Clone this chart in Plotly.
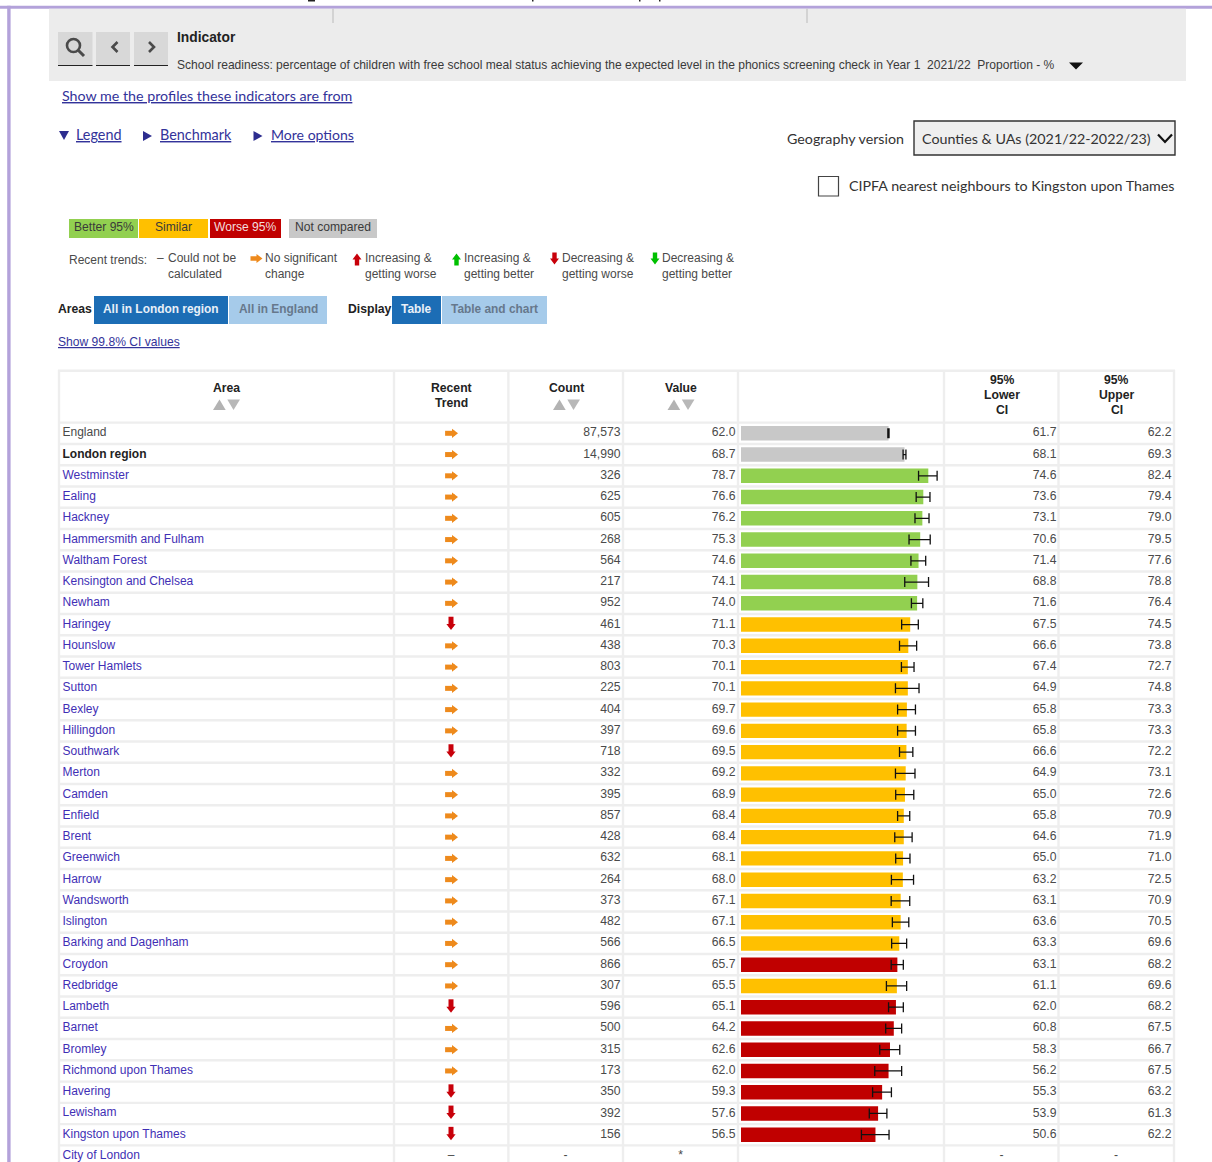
import plotly.graph_objects as go

areas = ["England","London region","Westminster","Ealing","Hackney","Hammersmith and Fulham","Waltham Forest",
         "Kensington and Chelsea","Newham","Haringey","Hounslow","Tower Hamlets","Sutton","Bexley","Hillingdon",
         "Southwark","Merton","Camden","Enfield","Brent","Greenwich","Harrow","Wandsworth","Islington",
         "Barking and Dagenham","Croydon","Redbridge","Lambeth","Barnet","Bromley","Richmond upon Thames",
         "Havering","Lewisham","Kingston upon Thames","City of London"]
counts = ["87,573","14,990","326","625","605","268","564","217","952","461","438","803","225","404","397","718",
          "332","395","857","428","632","264","373","482","566","866","307","596","500","315","173","350","392","156","-"]
values = [62.0,68.7,78.7,76.6,76.2,75.3,74.6,74.1,74.0,71.1,70.3,70.1,70.1,69.7,69.6,69.5,69.2,68.9,68.4,68.4,68.1,
          68.0,67.1,67.1,66.5,65.7,65.5,65.1,64.2,62.6,62.0,59.3,57.6,56.5,None]
lower = [61.7,68.1,74.6,73.6,73.1,70.6,71.4,68.8,71.6,67.5,66.6,67.4,64.9,65.8,65.8,66.6,64.9,65.0,65.8,64.6,65.0,
         63.2,63.1,63.6,63.3,63.1,61.1,62.0,60.8,58.3,56.2,55.3,53.9,50.6,None]
upper = [62.2,69.3,82.4,79.4,79.0,79.5,77.6,78.8,76.4,74.5,73.8,72.7,74.8,73.3,73.3,72.2,73.1,72.6,70.9,71.9,71.0,
         72.5,70.9,70.5,69.6,68.2,69.6,68.2,67.5,66.7,67.5,63.2,61.3,62.2,None]
benchmark = ["none","none"]+["better"]*7+["similar"]*16+["worse","similar"]+["worse"]*7+["none"]
trends = ["same"]*9+["down"]+["same"]*5+["down"]+["same"]*11+["down"]+["same"]*3+["down","down","down","na"]

W, H = 1212, 1162
ROW0, PITCH = 433.3, 21.255
BAR0, PXU = 741, 2.38
TXT = "#4a4a4a"
LINK = "#33339a"
AREA = "#3f2fb5"
SANS = "Liberation Sans"
GDS = "Lato"
BCOL = {"better":"#92d050","similar":"#ffc000","worse":"#c00000","none":"#c8c8c8"}

def px(x): return x/W
def py(y): return 1-y/H

shapes, ann = [], []
def rect(x0,y0,x1,y1,fill,line=None,lw=0):
    shapes.append(dict(type="rect",xref="paper",yref="paper",x0=px(x0),x1=px(x1),y0=py(y0),y1=py(y1),
                       fillcolor=fill,line=dict(color=line or fill,width=lw),layer="below"))
def poly(points,fill=None,line=None,lw=0):
    d = "M"+" L".join(f"{px(a):.5f},{py(b):.5f}" for a,b in points)+(" Z" if fill else "")
    shapes.append(dict(type="path",xref="paper",yref="paper",path=d,fillcolor=fill or "rgba(0,0,0,0)",
                       line=dict(color=line or "rgba(0,0,0,0)",width=lw),layer="above"))
def text(x,y,s,size=12,color=TXT,anchor="left",font=SANS,bold=False):
    ann.append(dict(xref="paper",yref="paper",x=px(x),y=py(y),text=f"<b>{s}</b>" if bold else s,showarrow=False,
                    xanchor=anchor,yanchor="middle",borderpad=0,borderwidth=0,
                    font=dict(size=size,color=color,family=font)))
def key_arrow(cx,cy,kind,color):
    if kind=="right":
        pts=[(cx-6,cy-2.2),(cx,cy-2.2),(cx,cy-4.5),(cx+6,cy),(cx,cy+4.5),(cx,cy+2.2),(cx-6,cy+2.2)]
    else:
        s = 1 if kind=="down" else -1
        pts=[(cx-2.2,cy-6*s),(cx+2.2,cy-6*s),(cx+2.2,cy),(cx+4.5,cy),(cx,cy+6*s),(cx-4.5,cy),(cx-2.2,cy)]
    poly(pts,fill=color)

# page frame and clipped heading above it
PURPLE = "#b3a2da"
rect(0,5.7,W,8.7,PURPLE)
rect(7.2,5.7,10.6,H,PURPLE)
for a,b in [(308,315),(532,533.5),(639,640.5),(659,660.5)]:
    rect(a,0,b,1.5,"#222222")
# indicator band
rect(49,8.7,1186,81,"#ececec")
rect(332.5,8.7,333.5,23,"#b9b9b9")
rect(806.5,8.7,807.5,23,"#b9b9b9")
for a,b in [(58,92.5),(96,130),(134,168)]:
    rect(a,32,b,65,"#d8d8d8")
    rect(a,65,b,66,"#222222")
# magnifier, chevrons
shapes.append(dict(type="circle",xref="paper",yref="paper",x0=px(67),x1=px(80),y0=py(52),y1=py(39),
                   line=dict(color="#4a4a4a",width=2.6),fillcolor="rgba(0,0,0,0)"))
poly([(78.5,50.5),(84,56)],line="#4a4a4a",lw=3)
poly([(117.5,42),(112.5,47),(117.5,52)],line="#4a4a4a",lw=2.6)
poly([(149,42),(154,47),(149,52)],line="#4a4a4a",lw=2.6)
text(177,37.5,"Indicator",13.8,"#222222",bold=True)
text(177,65,"School readiness: percentage of children with free school meal status achieving the expected level in the phonics screening check in Year 1&nbsp;&nbsp;2021/22&nbsp;&nbsp;Proportion - %",12.05,"#3a3a3a")
poly([(1069,62.5),(1083,62.5),(1076,69.5)],fill="#111111")

# links
text(62,96,"<u>Show me the profiles these indicators are from</u>",14.25,LINK,font=GDS)
poly([(59,131),(69,131),(64,140)],fill="#2d2d8f")
text(76,135,"<u>Legend</u>",14.4,LINK,font=GDS)
poly([(143,131),(152,136),(143,141)],fill="#2d2d8f")
text(160,135,"<u>Benchmark</u>",14.4,LINK,font=GDS)
poly([(253.5,131),(262.5,136),(253.5,141)],fill="#2d2d8f")
text(271,135,"<u>More options</u>",14.05,LINK,font=GDS)

# geography controls
text(787,138.5,"Geography version",14.25,"#333333",font=GDS)
rect(914,121,1175,155,"#efefef","#333333",1.4)
text(922,138.5,"Counties &amp; UAs (2021/22-2022/23)",14.3,"#333333",font=GDS)
poly([(1158,134.5),(1165,142),(1172,134.5)],line="#111111",lw=2.2)
rect(818.5,176.5,838.5,196,"#ffffff","#444444",1.2)
text(849,185.5,"CIPFA nearest neighbours to Kingston upon Thames",14.28,"#333333",font=GDS)

# legend pills
for a,b,c,t,tc in [(69,138,"#92d050","Better 95%","#3a3a3a"),(139,208,"#ffc000","Similar","#3a3a3a"),
                   (210,281,"#c00000","Worse 95%","#f2dede"),(289,377,"#c8c8c8","Not compared","#3a3a3a")]:
    rect(a,219,b,238,c)
    text((a+b)/2,227.3,t,12.1,tc,anchor="center")
text(69,260,"Recent trends:",12)
text(157,258,"–",12)
for x,l1,l2 in [(168,"Could not be","calculated"),(265,"No significant","change"),(365,"Increasing &amp;","getting worse"),
                (464,"Increasing &amp;","getting better"),(562,"Decreasing &amp;","getting worse"),(662,"Decreasing &amp;","getting better")]:
    text(x,258,l1,12)
    text(x,274,l2,12)
ORANGE, RED, GREEN = "#ee8a1c", "#c8000a", "#00c000"
key_arrow(256.5,258.5,"right",ORANGE)
key_arrow(357,259.5,"up",RED)
key_arrow(456.5,259.5,"up",GREEN)
key_arrow(554.5,258.5,"down",RED)
key_arrow(655,258.5,"down",GREEN)

# area / display toggles
text(58,309,"Areas",12.2,"#222222",bold=True)
text(348,309,"Display",12.2,"#222222",bold=True)
for a,b,c,t,tc in [(94,228,"#1c6db5","All in London region","#e8f0f8"),(229,327,"#a6cbea","All in England","#66788c"),
                   (392,441,"#1c6db5","Table","#e8f0f8"),(442,547,"#a6cbea","Table and chart","#66788c")]:
    rect(a,296,b,324,c)
    text((a+b)/2,309,t,11.9,tc,anchor="center",bold=True)
text(58,342,"<u>Show 99.8% CI values</u>",12.1,LINK)

# table grid
GRID = "#eeeeee"
for x in [59,394,508.4,623,738,944,1058.5,1174]:
    rect(x-1.2,370,x+1.2,H,GRID)
rect(58,369.5,1175,372,GRID)
for i in range(len(areas)):
    y = ROW0+(i-0.5)*PITCH
    rect(58,y-1.2,1175,y+1.2,GRID)

# table header
for x,lines in [(226.5,["Area"]),(451,["Recent","Trend"]),(566.5,["Count"]),(681,["Value"])]:
    for k,l in enumerate(lines):
        text(x,388+15*k,l,12.2,"#222222",anchor="center",bold=True)
for x,l in [(1002,"Lower"),(1116.5,"Upper")]:
    for k,t in enumerate(["95%",l,"CI"]):
        text(x,380+15*k,t,12.2,"#222222",anchor="center",bold=True)
for c in [226.5,566.5,681]:
    poly([(c-13.5,410),(c-7,399.5),(c-0.8,410)],fill="#b3b3b3")
    poly([(c+0.8,399.5),(c+13.5,399.5),(c+7,410)],fill="#b8b8b8")

fig = go.Figure()

# bars and confidence intervals
fig.add_bar(y=areas,x=values,orientation="h",width=0.68,marker=dict(color=[BCOL[b] for b in benchmark],line_width=0),
            error_x=dict(type="data",symmetric=False,
                         array=[None if v is None else round(u-v,1) for u,v in zip(upper,values)],
                         arrayminus=[None if v is None else round(v-l,1) for l,v in zip(lower,values)],
                         color="#111111",thickness=1.3,width=5),
            xaxis="x",yaxis="y",hoverinfo="skip")

# table columns (x in page pixels, y in the category axis)
def column(x,labels,pos,color=TXT,size=12.2):
    fig.add_scatter(x=[x]*len(labels),y=areas,mode="text",text=labels,textposition=pos,cliponaxis=False,
                    textfont=dict(size=size,color=color,family=SANS),xaxis="x2",yaxis="y",hoverinfo="skip")
names = [f"<b>{a}</b>" if a=="London region" else a for a in areas]
name_colors = [TXT,"#222222"]+[AREA]*(len(areas)-2)
column(62.5,names,"middle right",name_colors,12)
column(620.5,[c if c!="-" else "" for c in counts],"middle left")
column(735.5,[f"{v:.1f}" if v is not None else "" for v in values],"middle left")
column(1056.5,[f"{v:.1f}" if v is not None else "" for v in lower],"middle left")
column(1171.5,[f"{v:.1f}" if v is not None else "" for v in upper],"middle left")
# suppressed values in the last row
for x,s in [(565.5,"-"),(680.5,"*"),(1001.5,"-"),(1116,"-")]:
    fig.add_scatter(x=[x],y=[areas[-1]],mode="text",text=[s],textposition="middle center",cliponaxis=False,
                    textfont=dict(size=12.2,color=TXT,family=SANS),xaxis="x2",yaxis="y",hoverinfo="skip")

# trend glyphs: shaft + head, on a numeric row axis matching the category axis
idx = list(range(len(areas)))
same = [i for i,t in zip(idx,trends) if t=="same"]
down = [i for i,t in zip(idx,trends) if t=="down"]
def glyph(xs,ys,symbol,size,color,lw=0):
    fig.add_scatter(x=xs,y=ys,mode="markers",cliponaxis=False,xaxis="x2",yaxis="y3",hoverinfo="skip",
                    marker=dict(symbol=symbol,size=size,color=color,line=dict(color=color,width=lw)))
glyph([450]*len(same),same,"line-ew",7,ORANGE,5)
glyph([454]*len(same),same,"triangle-right",8,ORANGE)
glyph([451]*len(down),[i-0.14 for i in down],"line-ns",7,RED,5)
glyph([451]*len(down),[i+0.07 for i in down],"triangle-down",8,RED)
fig.add_scatter(x=[451],y=[areas[-1]],mode="text",text=["–"],textposition="middle center",cliponaxis=False,
                textfont=dict(size=12,color=TXT,family=SANS),xaxis="x2",yaxis="y",hoverinfo="skip")

XMAX = 85
top = ROW0-0.5*PITCH
yrange = [(H-ROW0)/PITCH,-0.5]
fig.update_layout(
    width=W,height=H,margin=dict(l=0,r=0,t=0,b=0,pad=0),autosize=False,showlegend=False,
    paper_bgcolor="#ffffff",plot_bgcolor="rgba(0,0,0,0)",
    shapes=shapes,annotations=ann,
    xaxis=dict(domain=[px(BAR0),px(BAR0+XMAX*PXU)],range=[0,XMAX],visible=False,fixedrange=True),
    xaxis2=dict(domain=[0,1],range=[0,W],visible=False,anchor="y",fixedrange=True),
    yaxis=dict(domain=[0,py(top)],type="category",categoryorder="array",categoryarray=areas,
               range=yrange,visible=False,fixedrange=True),
    yaxis3=dict(domain=[0,py(top)],type="linear",range=yrange,visible=False,fixedrange=True,anchor="x2"),
)
fig.write_html("out.html",config=dict(displayModeBar=False),
               post_script="document.body.style.margin='0';document.body.style.overflow='hidden';")
